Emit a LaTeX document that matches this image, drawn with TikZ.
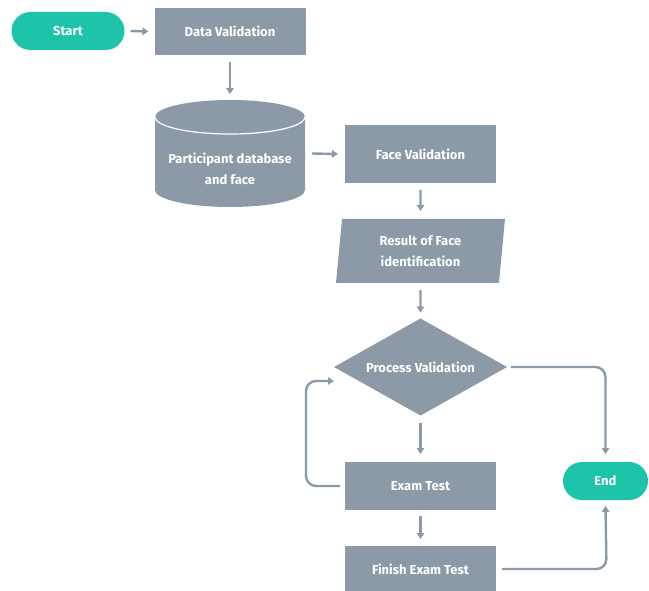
\documentclass[tikz,border=0pt]{standalone}
\usepackage{fontspec}
\setmainfont{Fira Sans}
\usetikzlibrary{shapes.geometric,arrows.meta}
\definecolor{boxgrey}{HTML}{8C99A6}
\definecolor{teal2}{HTML}{1DC4A9}
\tikzset{
  base/.style={inner sep=0pt, outer sep=0pt, text=white, font=\bfseries\fontsize{13}{21}\selectfont, align=center},
  procbox/.style={base, rectangle, fill=boxgrey, minimum width=151pt, minimum height=48pt},
  pill/.style={base, rectangle, rounded corners=19pt, fill=teal2, minimum height=38pt},
  conn/.style={draw=boxgrey, line width=2.4pt, -{Triangle[length=6pt,width=7.5pt]}},
}
\begin{document}
\begin{tikzpicture}[x=1pt,y=-1pt]
\useasboundingbox (0,0) rectangle (649,591);
\node[pill, minimum width=113pt] (start) at (68,31) {Start};
\node[procbox, minimum height=47pt] (dv) at (230,31.5) {Data Validation};
% cylinder
\node[base, rectangle, minimum width=150pt, minimum height=107pt] (db) at (230,153.5) {};
\path[fill=boxgrey] ([yshift=-17pt]db.north west) -- ([yshift=17pt]db.south west)
  arc[start angle=180, end angle=360, x radius=75pt, y radius=17pt]
  -- ([yshift=-17pt]db.north east)
  arc[start angle=0, end angle=180, x radius=75pt, y radius=17pt] -- cycle;
\draw[white, line width=1.2pt] ([yshift=-17pt]db.north west)
  arc[start angle=180, end angle=360, x radius=75pt, y radius=17pt];
\node[base] (dbt) at (230,168.5) {Participant database\\and face};
\node[procbox, minimum height=58pt] (fv) at (420.5,154) {Face Validation};
\node[base, trapezium, trapezium left angle=79, trapezium right angle=101, fill=boxgrey,
      trapezium stretches body, minimum width=169pt, minimum height=64pt] (res) at (420.5,251) {Result of Face\\identification};
\node[base, diamond, fill=boxgrey, aspect=1.78, minimum width=173pt, minimum height=97pt] (pv) at (420.5,367) {Process Validation};
\node[procbox] (et) at (420.5,486) {Exam Test};
\node[procbox, minimum height=46pt] (fe) at (420.5,569) {Finish Exam Test};
\node[pill, minimum width=85pt] (end) at (605.5,481) {End};

\draw[conn] ([xshift=6pt]start.east) -- ([xshift=-6pt]dv.west);
\draw[conn] ([yshift=-7pt]dv.south) -- ([yshift=6pt]db.north);
\draw[conn] ([xshift=7pt]db.east) -- ([xshift=-7pt]fv.west);
\draw[conn] ([yshift=-7pt]fv.south) -- ([yshift=8pt]res.north);
\draw[conn] ([yshift=-7pt]res.south) -- ([yshift=6pt]pv.north);
\draw[conn] ([yshift=-7pt]pv.south) -- ([yshift=8pt]et.north);
\draw[conn] ([yshift=-6pt]et.south) -- ([yshift=7pt]fe.north);
\draw[conn, rounded corners=10pt] ([xshift=-5pt]et.west) -- (306,486) -- (306,381) -- (334,381);
\draw[conn, rounded corners=10pt] ([xshift=4pt]pv.east) -- (605.5,367) -- ([yshift=8pt]end.north);
\draw[conn, rounded corners=10pt] ([xshift=6pt]fe.east) -- (606.5,569) -- ([yshift=-6pt]end.south);
\end{tikzpicture}
\end{document}
